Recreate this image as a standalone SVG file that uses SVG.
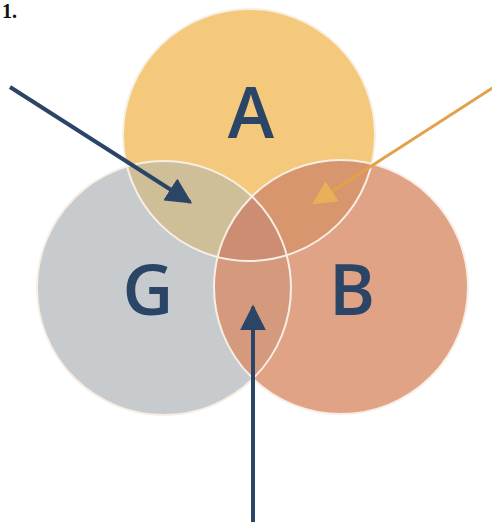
<svg xmlns="http://www.w3.org/2000/svg" width="492" height="522" viewBox="0 0 492 522">
  <style>
    .lbl { font-family: "Open Sans", "Liberation Sans", sans-serif; font-weight: 600; font-size: 70px; fill: #2b4566; text-anchor: middle; }
    .outline { fill: none; stroke: #f7efe6; stroke-width: 2; }
    .navy { stroke: #2b4566; stroke-width: 4; fill: none; }
    .orange { stroke: #e3a24a; stroke-width: 3; fill: none; }
  </style>
  <defs>
    <clipPath id="clipA"><circle cx="249" cy="135" r="126"/></clipPath>
    <clipPath id="clipG"><circle cx="164" cy="288" r="127"/></clipPath>
    <clipPath id="clipB"><circle cx="341" cy="287" r="127"/></clipPath>
    <marker id="headNavy" viewBox="0 0 10 10" refX="9" refY="5" markerWidth="6.5" markerHeight="6.5" markerUnits="strokeWidth" orient="auto">
      <path d="M0,0 L10,5 L0,10 z" fill="#2b4566"/>
    </marker>
    <marker id="headOrange" viewBox="0 0 10 10" refX="9" refY="5" markerWidth="8" markerHeight="8" markerUnits="strokeWidth" orient="auto">
      <path d="M0,0 L10,5 L0,10 z" fill="#e9b05a"/>
    </marker>
  </defs>
  <rect width="492" height="522" fill="#ffffff"/>
  <text x="2" y="18" font-family="Liberation Serif, serif" font-weight="700" font-size="20" fill="#111">1.</text>

  <g id="circle-A">
    <circle cx="249" cy="135" r="126" fill="#f5c97c"/>
  </g>
  <g id="circle-G">
    <circle cx="164" cy="288" r="127" fill="#c8cbcd"/>
  </g>
  <g id="circle-B">
    <circle cx="341" cy="287" r="127" fill="#e0a385"/>
  </g>
  <g id="overlaps">
    <circle cx="249" cy="135" r="126" fill="#cfbf98" clip-path="url(#clipG)"/>
    <circle cx="249" cy="135" r="126" fill="#d8966f" clip-path="url(#clipB)"/>
    <circle cx="164" cy="288" r="127" fill="#d5997e" clip-path="url(#clipB)"/>
    <g clip-path="url(#clipG)">
      <circle cx="249" cy="135" r="126" fill="#cc8d72" clip-path="url(#clipB)"/>
    </g>
  </g>
  <g id="outlines">
    <circle class="outline" cx="249" cy="135" r="126"/>
    <circle class="outline" cx="164" cy="288" r="127"/>
    <circle class="outline" cx="341" cy="287" r="127"/>
  </g>
  <g id="labels">
    <text class="lbl" x="251" y="138">A</text>
    <text class="lbl" x="148" y="315">G</text>
    <text class="lbl" x="352" y="315">B</text>
  </g>
  <g id="connectors">
    <line class="navy" x1="10" y1="87" x2="190" y2="202" marker-end="url(#headNavy)"/>
    <line class="orange" x1="494" y1="87" x2="314" y2="203" marker-end="url(#headOrange)"/>
    <line class="navy" x1="253" y1="524" x2="253" y2="307" marker-end="url(#headNavy)"/>
  </g>
</svg>
